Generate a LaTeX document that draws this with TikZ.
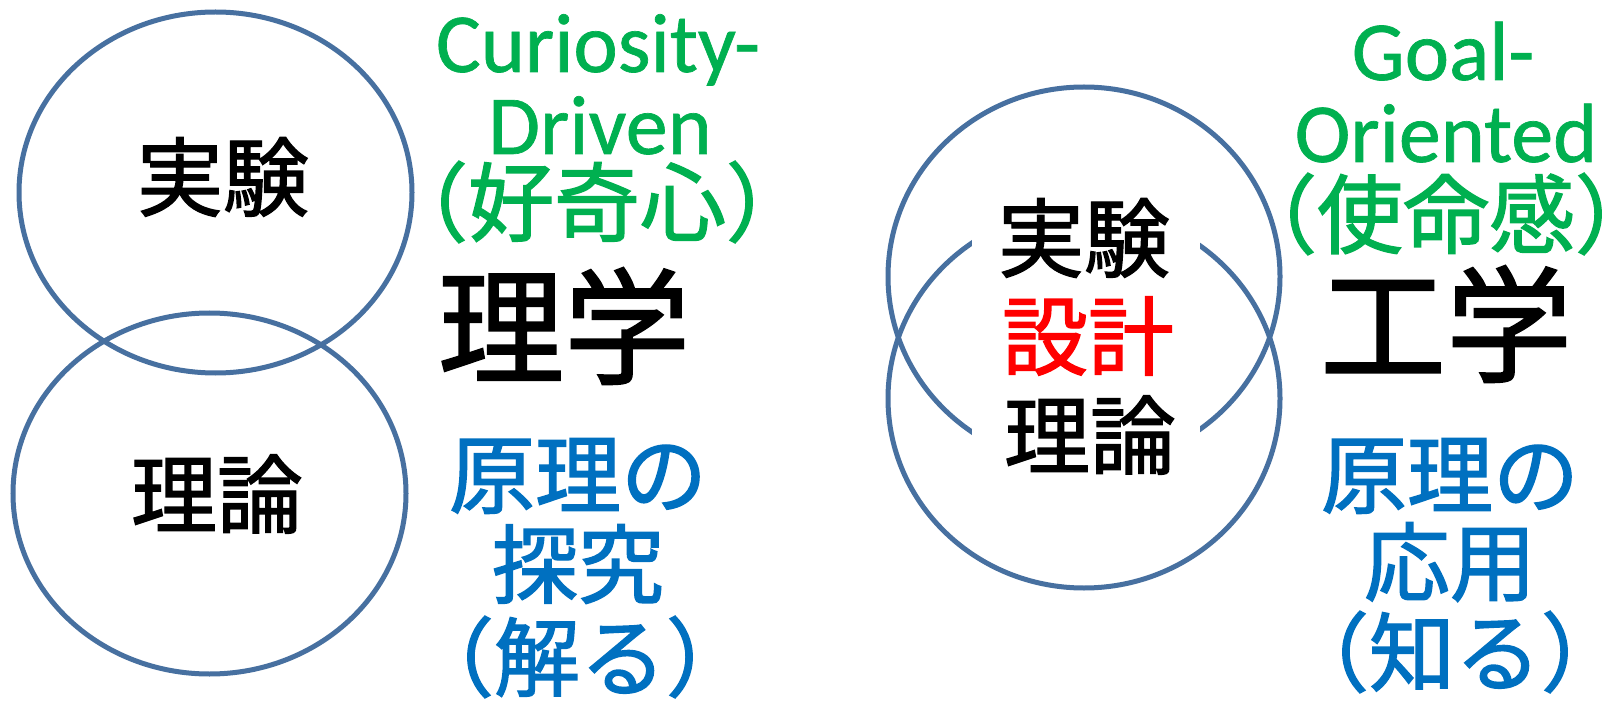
\documentclass[tikz,border=0pt]{standalone}
\usepackage{fontspec}
\setmainfont{Carlito}
\newfontfamily\lt[FakeBold=0.8]{Carlito}
\newfontfamily\jp[FakeBold=1.6]{Noto Sans CJK JP}
\usetikzlibrary{shapes.geometric}
\definecolor{ringblue}{RGB}{71,112,160}
\definecolor{txtgreen}{RGB}{0,176,80}
\definecolor{txtblue}{RGB}{0,112,192}
\definecolor{txtred}{RGB}{255,0,0}
\tikzset{
  ring/.style={ellipse, draw=ringblue, line width=5pt, inner sep=0pt,
    minimum width=393pt, minimum height=361pt},
  ringR/.style={ring, minimum width=392pt, minimum height=379pt},
  jt/.style={inner sep=0pt, font=\jp\fontsize{86}{86}\selectfont},
  big/.style={inner sep=0pt, font=\jp\fontsize{126}{126}\selectfont},
  lat/.style={inner sep=0pt, anchor=base, text=txtgreen, font=\lt\fontsize{84}{84}\selectfont},
}
\begin{document}
\begin{tikzpicture}[x=1pt,y=-1pt]
\useasboundingbox[fill=white] (0,0) rectangle (1613,708);
% left circles
\node[ring] (topL) at (215.5,192.5) {};
\node[ring] (botL) at (209.5,493.5) {};
\node[jt] (expL) at (223,177) {実験};
\node[jt] (theoL) at (217,494) {理論};
% left column texts
\node[lat] (cur) at (598,72) {Curiosity-};
\node[lat] (drv) at (600,154) {Driven};
\node[jt, text=txtgreen] (koki) at (597,202) {（好奇心）};
\node[big] (rigaku) at (564,326) {理学};
\node[jt, text=txtblue] (genriL) at (578,476) {原理の};
\node[jt, text=txtblue] (tankyu) at (578,564) {探究};
\node[jt, text=txtblue] (wakaru) at (580,657) {（解る）};
% right circles
\node[ringR] (topR) at (1084,276.5) {};
\node[ringR] (botR) at (1084,398.5) {};
\fill[white] (972,185) rectangle (1200,490);
\node[jt] (expR) at (1084,238) {実験};
\node[jt, text=txtred] (sekkei) at (1088,336) {設計};
\node[jt] (theoR) at (1090,435) {理論};
% right column texts
\node[lat] (goal) at (1443,80) {Goal-};
\node[lat] (ori) at (1446,162) {Oriented};
\node[jt, text=txtgreen] (shimei) at (1446,214) {（使命感）};
\node[big] (kogaku) at (1446,324) {工学};
\node[jt, text=txtblue] (genriR) at (1450,476) {原理の};
\node[jt, text=txtblue] (oyo) at (1450,562) {応用};
\node[jt, text=txtblue] (shiru) at (1455,652) {（知る）};
\end{tikzpicture}
\end{document}
